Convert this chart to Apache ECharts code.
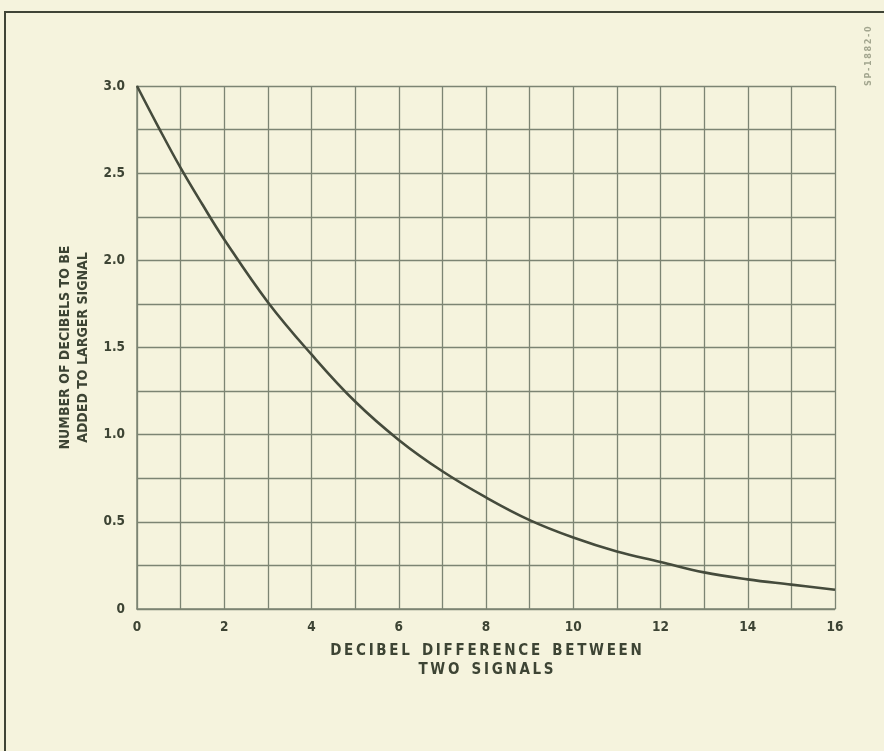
<!DOCTYPE html>
<html>
<head>
<meta charset="utf-8">
<script src="https://cdn.jsdelivr.net/npm/echarts@6/dist/echarts.min.js"></script>
<style>
html,body{margin:0;padding:0;background:#f5f3dd;}
#c{width:884px;height:751px;}
</style>
</head>
<body>
<div id="c"></div>
<script>
// Data
const dbDifference = [0, 0.5, 1, 1.5, 2, 3, 4, 5, 6, 7, 8, 9, 10, 11, 12, 13, 14, 15, 16];
const dbToAdd      = [3.0, 2.76, 2.53, 2.32, 2.12, 1.76, 1.46, 1.19, 0.97, 0.79, 0.64, 0.51, 0.41, 0.33, 0.27, 0.21, 0.17, 0.14, 0.11];
const xTickLabels = ['0','2','4','6','8','10','12','14','16'];
const yTickLabels = ['0','0.5','1.0','1.5','2.0','2.5','3.0'];
const xTitleLines = ['DECIBEL DIFFERENCE BETWEEN', 'TWO SIGNALS'];
const yTitleLines = ['NUMBER OF DECIBELS TO BE', 'ADDED TO LARGER SIGNAL'];
const stamp = 'SP-1882-0';

const ink = '#3d4434';
const gridInk = '#7c8473';
const font = 'DejaVu Sans Condensed';
// letter spacing imitation (style only)
const spaced = s => s.split('').join('\u2009').replace(/\u2009 \u2009/g, '\u2009\u2002\u2009');

const chart = echarts.init(document.getElementById('c'));
chart.setOption({
  backgroundColor: '#f5f3dd',
  animation: false,
  grid: {left: 137, right: 49, top: 86, bottom: 142, containLabel: false},
  xAxis: {
    type: 'value', min: 0, max: 16, interval: 1,
    name: xTitleLines.map(spaced).join('\n'), nameLocation: 'middle', nameGap: 33,
    nameTextStyle: {color: ink, fontFamily: font, fontSize: 15, fontWeight: 'bold', lineHeight: 19},
    axisLine: {show: true, lineStyle: {color: gridInk, width: 1.5}},
    axisTick: {show: false},
    axisLabel: {color: ink, fontFamily: font, fontSize: 13.5, fontWeight: 'bold', margin: 11,
      formatter: v => (xTickLabels.indexOf(String(v)) >= 0 ? String(v) : '')},
    splitLine: {show: true, lineStyle: {color: gridInk, width: 1.3}}
  },
  yAxis: {
    type: 'value', min: 0, max: 3, interval: 0.25,
    name: yTitleLines.join('\n'), nameLocation: 'middle', nameGap: 33, nameRotate: 90,
    nameTextStyle: {color: ink, fontFamily: font, fontSize: 14, fontWeight: 'bold', lineHeight: 18},
    axisLine: {show: true, lineStyle: {color: gridInk, width: 1.5}},
    axisTick: {show: false},
    axisLabel: {color: ink, fontFamily: font, fontSize: 13.5, fontWeight: 'bold', margin: 12,
      formatter: v => {
        const s = v === 0 ? '0' : v.toFixed(1);
        return (Math.abs(v * 2 - Math.round(v * 2)) < 1e-9 && yTickLabels.indexOf(s) >= 0) ? s : '';
      }},
    splitLine: {show: true, lineStyle: {color: gridInk, width: 1.3}}
  },
  series: [{
    type: 'line',
    data: dbDifference.map((x, i) => [x, dbToAdd[i]]),
    smooth: 0.4,
    showSymbol: false,
    lineStyle: {color: '#454b3c', width: 2.6}
  }],
  graphic: [
    {type: 'rect', shape: {x: 5, y: 12, width: 900, height: 760},
     style: {fill: 'none', stroke: '#3f4436', lineWidth: 2}},
    {type: 'text', x: 864, y: 86, rotation: Math.PI / 2,
     style: {text: spaced(stamp), fill: '#a3a68f', font: 'bold 9px "DejaVu Sans Condensed"'}}
  ]
});
</script>
</body>
</html>
